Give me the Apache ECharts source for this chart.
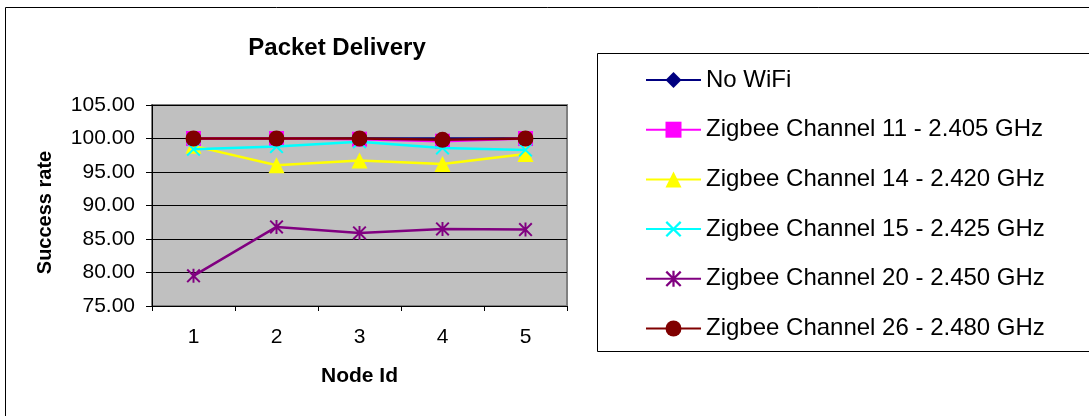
<!DOCTYPE html>
<html>
<head>
<meta charset="utf-8">
<script src="https://cdn.jsdelivr.net/npm/echarts@6/dist/echarts.min.js"></script>
<style>
html,body{margin:0;padding:0;background:#fff;}
#chart{width:1089px;height:416px;}
</style>
</head>
<body>
<div id="chart"></div>
<script>
const categories = ['1', '2', '3', '4', '5'];
const seriesNames = [
  'No WiFi',
  'Zigbee Channel 11 - 2.405 GHz',
  'Zigbee Channel 14 - 2.420 GHz',
  'Zigbee Channel 15 - 2.425 GHz',
  'Zigbee Channel 20 - 2.450 GHz',
  'Zigbee Channel 26 - 2.480 GHz'
];
const noWifi = [100, 100, 100, 100, 100];
const ch11 = [100, 100, 99.9, 99.6, 100];
const ch14 = [98.9, 96.0, 96.7, 96.2, 97.7];
const ch15 = [98.4, 98.8, 99.5, 98.6, 98.3];
const ch20 = [79.5, 86.8, 85.9, 86.5, 86.4];
const ch26 = [100, 100, 100, 99.8, 100];
const yTicks = { min: 75, max: 105, interval: 5 };

const FONT = 'Liberation Sans, Arial, sans-serif';
const X_PATH = 'path://M0,1 L1,0 L5,4 L9,0 L10,1 L6,5 L10,9 L9,10 L5,6 L1,10 L0,9 L4,5 Z';
const STAR_PATH = 'path://M0,1 L1,0 L5,4 L9,0 L10,1 L6,5 L10,9 L9,10 L5,6 L1,10 L0,9 L4,5 Z M4.3,0 L5.7,0 L5.7,10 L4.3,10 Z';

const styles = [
  { color: '#000080', symbol: 'diamond', size: 13 },
  { color: '#FF00FF', symbol: 'rect', size: 15 },
  { color: '#FFFF00', symbol: 'triangle', size: 16 },
  { color: '#00FFFF', symbol: X_PATH, size: 14 },
  { color: '#800080', symbol: STAR_PATH, size: 14 },
  { color: '#800000', symbol: 'circle', size: 16 }
];
const data = [noWifi, ch11, ch14, ch15, ch20, ch26];

const chart = echarts.init(document.getElementById('chart'));
chart.setOption({
  animation: false,
  backgroundColor: '#ffffff',
  graphic: [
    { type: 'rect', shape: { x: 5.5, y: 7.5, width: 1200, height: 500 },
      style: { fill: 'none', stroke: '#000', lineWidth: 1 }, z: -10 },
    { type: 'rect', shape: { x: 597.5, y: 53.5, width: 600, height: 298 },
      style: { fill: '#fff', stroke: '#000', lineWidth: 1 }, z: -5 }
  ],
  title: {
    text: 'Packet Delivery',
    left: 332, top: 31, textAlign: 'center',
    textStyle: { fontFamily: FONT, fontWeight: 'bold', fontSize: 24, color: '#000' }
  },
  legend: {
    orient: 'vertical',
    left: 640, top: 63,
    itemWidth: 55, itemHeight: 20,
    itemGap: 25.7,
    data: seriesNames,
    textStyle: { fontFamily: FONT, fontSize: 24, color: '#000', lineHeight: 24 }
  },
  grid: {
    left: 152, right: 522, top: 105, bottom: 110,
    show: true, backgroundColor: '#C0C0C0', borderColor: '#808080', borderWidth: 2
  },
  xAxis: {
    type: 'category',
    data: categories,
    boundaryGap: true,
    name: 'Node Id',
    nameLocation: 'middle',
    nameGap: 60,
    nameTextStyle: { fontFamily: FONT, fontWeight: 'bold', fontSize: 21, color: '#000' },
    axisLine: { lineStyle: { color: '#000', width: 1 } },
    axisTick: { show: true, length: 5, lineStyle: { color: '#000' } },
    axisLabel: { fontFamily: FONT, fontSize: 21, color: '#000', margin: 21 },
    splitLine: { show: false }
  },
  yAxis: {
    type: 'value',
    min: yTicks.min, max: yTicks.max, interval: yTicks.interval,
    name: 'Success rate',
    nameLocation: 'middle',
    nameGap: 97,
    nameTextStyle: { fontFamily: FONT, fontWeight: 'bold', fontSize: 20, color: '#000', padding: [0, 14, 0, 0] },
    axisLine: { show: true, lineStyle: { color: '#000', width: 1 } },
    axisTick: { show: true, length: 6, lineStyle: { color: '#000' } },
    axisLabel: { fontFamily: FONT, fontSize: 21, color: '#000', margin: 17,
      formatter: v => v.toFixed(2) },
    splitLine: { show: true, lineStyle: { color: '#000', width: 1 } }
  },
  series: data.map((d, i) => ({
    name: seriesNames[i],
    type: 'line',
    data: d,
    symbol: styles[i].symbol,
    symbolSize: styles[i].size,
    showAllSymbol: true,
    lineStyle: { color: styles[i].color, width: 2.5 },
    itemStyle: { color: styles[i].color, borderWidth: 0 },
    emphasis: { disabled: true },
    z: 2 + i
  }))
});
</script>
</body>
</html>
